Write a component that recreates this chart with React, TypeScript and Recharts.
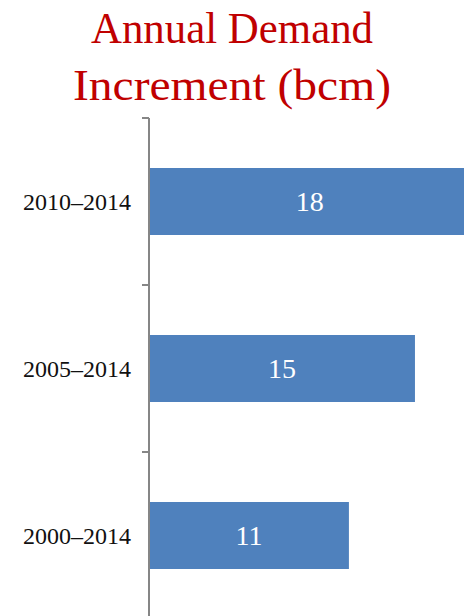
import React from 'react'
import { Bar, BarChart, LabelList, XAxis, YAxis } from 'recharts'

const periods = ['2010–2014', '2005–2014', '2000–2014']
const increments = [18, 14.9, 11.2]

const data = periods.map((p, i) => ({ period: p, value: increments[i] }))

const W = 506
const H = 630
const M = { top: 118, right: 0, bottom: 11, left: 0 }
const halfBand = (H - M.top - M.bottom) / periods.length / 2

const PeriodTick = ({ x, y, payload }: any) => (
  <g>
    <line x1={x + 11} x2={x + 18} y1={y - halfBand} y2={y - halfBand} stroke="#868686" strokeWidth={2} />
    <text x={x} y={y} dy={8} textAnchor="end" fontFamily="Liberation Serif" fontSize={24} fill="#111">
      {payload.value}
    </text>
  </g>
)

const App = () => {
  return (
    <div style={{ position: 'fixed', left: 0, top: 0, width: 464, height: 616, overflow: 'hidden', background: '#fff' }}>
      <svg width={464} height={118} style={{ position: 'absolute', left: 0, top: 0 }}>
        <text x={232} y={43} textAnchor="middle" fontFamily="Liberation Serif" fontSize={45} fill="#C00000"
          textLength={282} lengthAdjust="spacingAndGlyphs">
          Annual Demand
        </text>
        <text x={232} y={100} textAnchor="middle" fontFamily="Liberation Serif" fontSize={45} fill="#C00000"
          textLength={318} lengthAdjust="spacingAndGlyphs">
          Increment (bcm)
        </text>
      </svg>
      <div style={{ position: 'absolute', left: 0, top: 0 }}>
        <BarChart width={W} height={H} data={data} layout="vertical" margin={M}>
          <XAxis type="number" domain={[0, 20]} hide />
          <YAxis type="category" dataKey="period" width={149} axisLine={{ stroke: '#868686', strokeWidth: 2 }}
            tickLine={false} tickSize={0} tickMargin={18} tick={<PeriodTick />} interval={0} />
          <Bar dataKey="value" fill="#4F81BD" barSize={67} isAnimationActive={false}>
            <LabelList dataKey="value" position="center" fill="#fff" fontSize={28} fontFamily="Liberation Serif"
              formatter={(v: any) => Math.round(Number(v))} />
          </Bar>
        </BarChart>
      </div>
    </div>
  )
}

export default App
